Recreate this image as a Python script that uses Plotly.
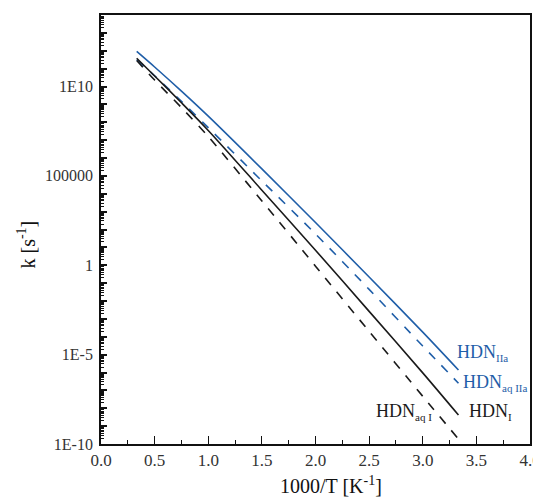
import numpy as np
import plotly.graph_objects as go

# 1000/T values [1/K]
inv_T = [0.333, 0.5, 0.75, 1.0, 1.5, 2.0, 2.5, 3.0, 3.333]

# log10 of the rate constants
log_k_IIa = [11.96, 11.09, 9.74, 8.34, 5.39, 2.39, -0.66, -3.74, -5.86]
log_k_aq_IIa = [11.50, 10.60, 9.17, 7.70, 4.72, 1.75, -1.35, -4.52, -6.60]
log_k_I = [11.58, 10.59, 9.09, 7.54, 4.20, 0.84, -2.58, -6.02, -8.38]
log_k_aq_I = [11.45, 10.36, 8.82, 7.20, 3.60, -0.05, -3.70, -7.33, -9.72]

ytick_exps = list(range(-10, 15))
ytick_labels = {-10: '1E-10', -5: '1E-5', 0: '1', 5: '100000', 10: '1E10'}

blue = '#1f5ea8'
black = '#1a1a1a'
serif = 'Liberation Serif'

fig = go.Figure()

series = [
    (log_k_IIa, blue, 'solid'),
    (log_k_aq_IIa, blue, 'dash'),
    (log_k_I, black, 'solid'),
    (log_k_aq_I, black, 'dash'),
]
for vals, col, dash in series:
    fig.add_trace(go.Scatter(
        x=inv_T, y=10 ** np.array(vals), mode='lines',
        line=dict(color=col, width=1.6, dash=dash, shape='spline', smoothing=0.8),
        showlegend=False))

# curve labels
sub = "<sub><span style='font-size:11px'>%s</span></sub>"
labels = [
    (3.30, -4.9, 'HDN' + sub % 'IIa', blue),
    (3.36, -6.6, 'HDN' + sub % 'aq IIa', blue),
    (3.41, -8.2, 'HDN' + sub % 'I', black),
    (2.55, -8.2, 'HDN' + sub % 'aq I', black),
]
for lx, ly, txt, col in labels:
    fig.add_annotation(x=lx, y=ly, text=txt, showarrow=False,
                       xanchor='left', yanchor='middle',
                       font=dict(family=serif, size=18, color=col))

# axis titles (placed by hand, they sit off-centre in the original)
fig.add_annotation(xref='paper', yref='paper', x=0.536, y=0, yshift=-41,
                   text='1000/T [K<sup>-1</sup>]', showarrow=False,
                   xanchor='center', yanchor='middle',
                   font=dict(family=serif, size=20, color='#111'))
fig.add_annotation(xref='paper', yref='paper', x=0, y=0.465, xshift=-75,
                   text='k [s<sup>-1</sup>]', showarrow=False, textangle=-90,
                   xanchor='center', yanchor='middle',
                   font=dict(family=serif, size=20, color='#111'))

fig.update_xaxes(
    range=[0, 4], dtick=0.5, tickformat='.1f', automargin=False,
    ticks='inside', ticklen=8, tickwidth=1.3, tickcolor='#111',
    minor=dict(ticks='inside', dtick=0.25, ticklen=4, tickwidth=1.3, tickcolor='#111'),
    showline=True, linewidth=1.8, linecolor='#111', mirror=True,
    showgrid=False, zeroline=False,
    tickfont=dict(family=serif, size=17, color='#333'))

fig.update_yaxes(
    type='log', range=[-10, 14], automargin=False,
    tickvals=[10.0 ** e for e in ytick_exps],
    ticktext=[ytick_labels.get(e, '') for e in ytick_exps],
    ticks='inside', ticklen=6, tickwidth=1.5, tickcolor='#111',
    minor=dict(ticks='inside', dtick='D1', ticklen=3, tickwidth=1, tickcolor='#111'),
    showline=True, linewidth=1.8, linecolor='#111', mirror=True,
    showgrid=False, zeroline=False, ticklabelstandoff=3,
    tickfont=dict(family=serif, size=16, color='#333'))

# page body adds an 8px offset, so the figure is a bit smaller than the window
fig.update_layout(
    width=533, height=492,
    margin=dict(l=93, r=11, t=7, b=56),
    plot_bgcolor='white', paper_bgcolor='white')

fig.write_html("out.html")
